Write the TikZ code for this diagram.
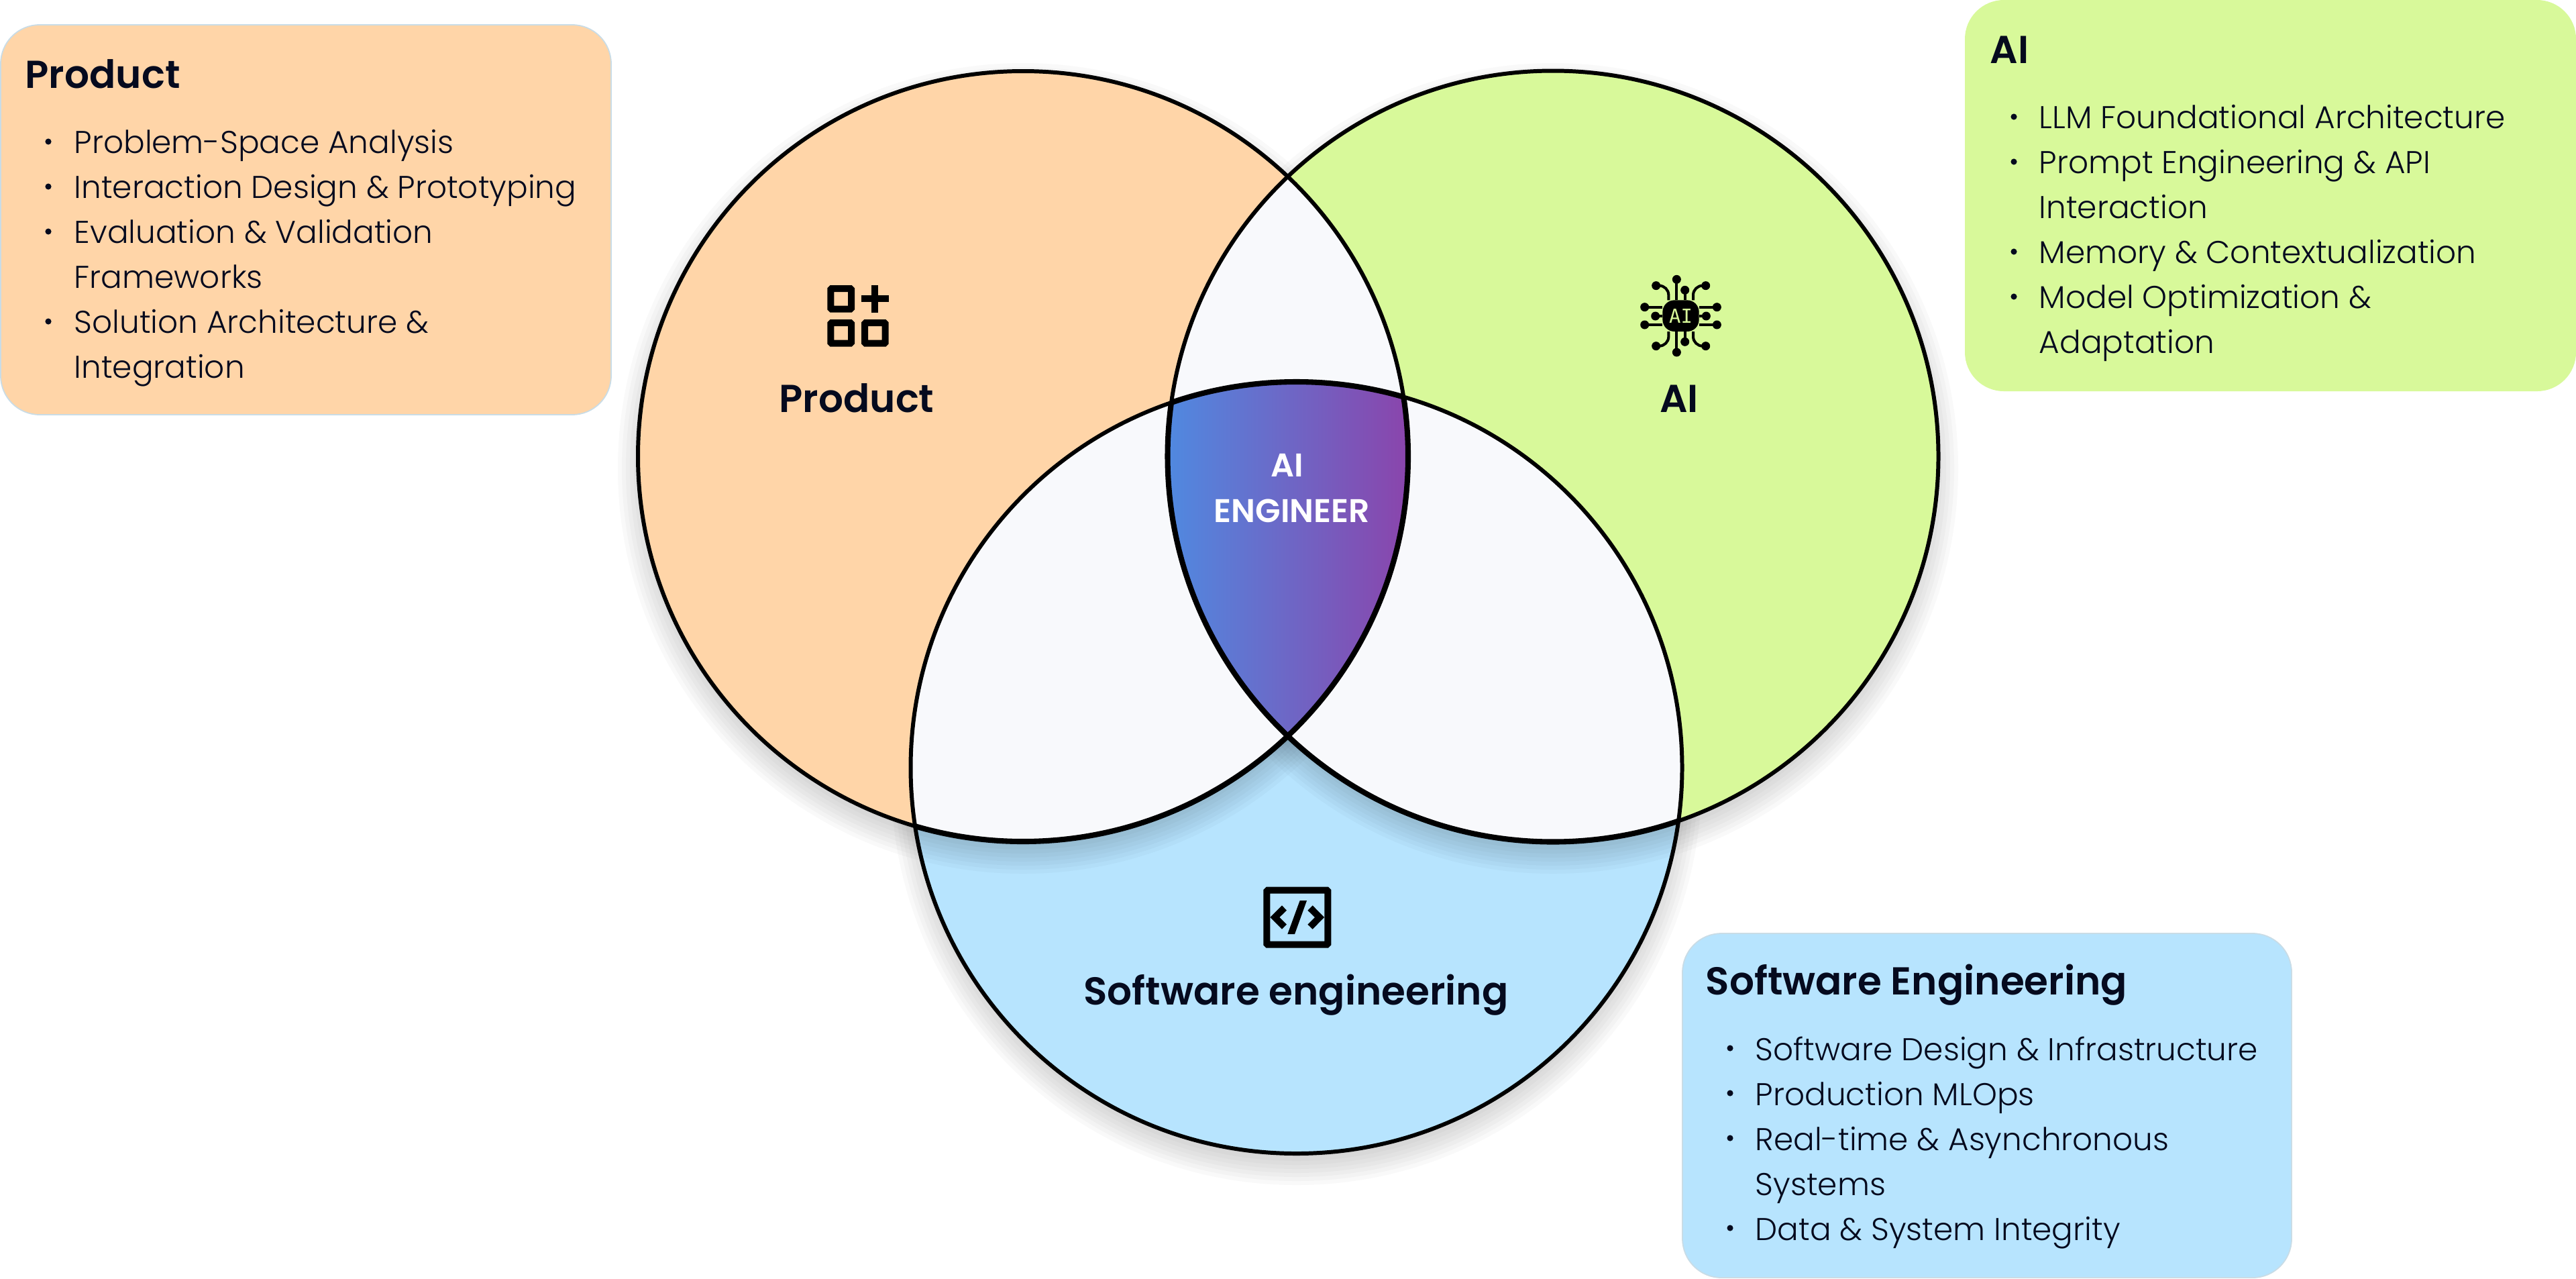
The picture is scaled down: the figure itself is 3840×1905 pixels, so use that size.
\documentclass[tikz,border=0pt]{standalone}
\usepackage{fontspec}
\setmainfont{Poppins}
\newfontfamily\itemfont{Poppins Light}
\newfontfamily\headfont{Poppins SemiBold}
\newfontfamily\chipfont{DejaVu Sans Mono}
\usetikzlibrary{positioning}
\definecolor{productfill}{HTML}{FFD5A8}
\definecolor{aifill}{HTML}{D8F99A}
\definecolor{softwarefill}{HTML}{B7E4FE}
\definecolor{overlapfill}{HTML}{F8F9FC}
\definecolor{lensleft}{HTML}{5089E0}
\definecolor{lensright}{HTML}{8A45AC}
\definecolor{inkdark}{HTML}{050A1E}
\definecolor{boxedge}{HTML}{C9DCE6}
\def\productcircle{(1525,-680) circle (574)}
\def\aicircle{(2315,-680) circle (574.5)}
\def\softwarecircle{(1932.5,-1144) circle (575)}
\tikzset{
  vennline/.style={line width=1.7pt,black},
  vennthick/.style={line width=2.3pt,black},
  softshadow/.style={black,opacity=0.024},
  infobox/.style={rounded corners=16.5pt,draw=boxedge,line width=0.5pt},
  boxtitle/.style={anchor=base west,inner sep=0pt,font=\fontsize{16.5}{19}\headfont,text=inkdark},
  boxitem/.style={anchor=base west,inner sep=0pt,font=\fontsize{13.35}{19}\itemfont,text=inkdark},
  boxbullet/.style={circle,fill=inkdark,inner sep=0pt,minimum size=2.6pt},
  venntitle/.style={anchor=base,inner sep=0pt,font=\fontsize{16.5}{20}\headfont,text=inkdark},
  lenstitle/.style={anchor=base,inner sep=0pt,font=\fontsize{13.9}{16}\headfont,text=white},
  iconzoom/.style={xscale=1/3,yscale=-1/3},
}
\begin{document}
\begin{tikzpicture}[x=0.01cm,y=0.01cm]
\useasboundingbox (0,0) rectangle (3840,-1905);
% info boxes
\draw[infobox,fill=productfill] (1,-37) rectangle (911,-618);
\fill[rounded corners=16.5pt,aifill] (2929,0) rectangle (3840,-583);
\draw[infobox,fill=softwarefill] (2508,-1391) rectangle (3416,-1904);
% soft shadows under the circles
\foreach \d in {-24,-18,...,30} {
  \fill[softshadow] (1525,-698) circle (574+\d);
  \fill[softshadow] (2315,-698) circle (574+\d);
  \fill[softshadow] (1932.5,-1162) circle (574+\d);
}
% circles
\fill[productfill] \productcircle;
\fill[aifill] \aicircle;
\fill[softwarefill] \softwarecircle;
\begin{scope}
  \clip \softwarecircle;
  \foreach \d in {-24,-18,...,30} {
    \fill[softshadow] (1525,-698) circle (574+\d);
    \fill[softshadow] (2315,-698) circle (574+\d);
  }
\end{scope}
% overlaps
\begin{scope}
  \clip \productcircle;
  \fill[overlapfill] \aicircle;
  \fill[overlapfill] \softwarecircle;
\end{scope}
\begin{scope}
  \clip \aicircle;
  \fill[overlapfill] \softwarecircle;
\end{scope}
\begin{scope}
  \clip \productcircle;
  \clip \aicircle;
  \clip \softwarecircle;
  \shade[left color=lensleft,right color=lensright] (1741,-560) rectangle (2097,-1100);
\end{scope}
\draw[vennline] \productcircle;
\draw[vennline] \aicircle;
\draw[vennline] \softwarecircle;
\begin{scope}
  \clip \softwarecircle;
  \draw[vennthick] \productcircle;
  \draw[vennthick] \aicircle;
\end{scope}
\begin{scope}
  \clip \productcircle;
  \clip \aicircle;
  \draw[vennthick] \softwarecircle;
\end{scope}
% product icon
\begin{scope}[shift={(1200,-400)},iconzoom]
  \draw[line width=2.85pt,rounded corners=0.4pt] (115,90) rectangle (207,182);
  \draw[line width=2.85pt,rounded corners=0.4pt] (115,243) rectangle (207,335);
  \draw[line width=2.85pt,rounded corners=0.4pt] (267,243) rectangle (359,335);
  \fill (252,121) rectangle (374,151);
  \fill (298,75) rectangle (328,197);
\end{scope}
% ai chip icon
\begin{scope}[shift={(2400,-390)},iconzoom]
  \fill[rounded corners=5pt] (235,172) rectangle (398,312);
  \draw[line width=1.15pt] (298,79) -- (298,172) (335,127) -- (335,172);
  \draw[line width=1.15pt] (298,405) -- (298,312) (335,358) -- (335,312);
  \draw[line width=1.15pt,rounded corners=4pt] (206,107) -- (262,107) -- (262,172);
  \draw[line width=1.15pt,rounded corners=4pt] (428,107) -- (372,107) -- (372,172);
  \draw[line width=1.15pt,rounded corners=4pt] (206,377) -- (262,377) -- (262,312);
  \draw[line width=1.15pt,rounded corners=4pt] (428,377) -- (372,377) -- (372,312);
  \draw[line width=1.15pt] (155,203) -- (235,203) (203,243) -- (235,243) (155,282) -- (235,282);
  \draw[line width=1.15pt] (478,203) -- (398,203) (430,243) -- (398,243) (478,282) -- (398,282);
  \foreach \px/\py in {298/79,335/127,206/107,428/107,298/405,335/358,206/377,428/377,155/203,203/243,155/282,478/203,430/243,478/282}
    \fill (\px,\py) circle (19.5);
\end{scope}
\node[inner sep=0pt,font=\fontsize{8.2}{9}\chipfont,text=aifill] (chiplabel) at (2505.5,-470.5) {AI};
% software icon
\begin{scope}[shift={(1850,-1300)},iconzoom]
  \draw[line width=2.85pt,rounded corners=0.4pt] (115,80) rectangle (388,323);
  \fill (183,148) -- (130,201) -- (183,254) -- (204,233) -- (172,201) -- (204,170) -- cycle;
  \fill (320,148) -- (372,201) -- (320,254) -- (298,233) -- (330,201) -- (298,170) -- cycle;
  \fill (263,126) -- (294,126) -- (240,276) -- (208,276) -- cycle;
\end{scope}
% venn labels
\node[venntitle] (productlabel) at (1277,-614) {Product};
\node[venntitle] (ailabel) at (2503,-614) {AI};
\node[venntitle] (softwarelabel) at (1932,-1497) {Software engineering};
\node[lenstitle] (aitop) at (1919,-710) {AI};
\node[lenstitle] (engineer) at (1926,-778) {ENGINEER};
% box texts
\node[boxtitle] (producthead) at (37,-131) {Product};
\node[boxtitle] (aihead) at (2966,-94) {AI};
\node[boxtitle] (softwarehead) at (2542,-1482) {Software Engineering};
\foreach \n/\ypos/\txt in {1/-228/Problem-Space Analysis,2/-295/Interaction Design \& Prototyping,3/-362/Evaluation \& Validation,4/-429/Frameworks,5/-496/Solution Architecture \&,6/-563/Integration}
  \node[boxitem] (productitem\n) at (110,\ypos) {\txt};
\foreach \n/\ypos/\txt in {1/-191/LLM Foundational Architecture,2/-258/Prompt Engineering \& API,3/-325/Interaction,4/-392/Memory \& Contextualization,5/-459/Model Optimization \&,6/-526/Adaptation}
  \node[boxitem] (aiitem\n) at (3039,\ypos) {\txt};
\foreach \n/\ypos/\txt in {1/-1580/Software Design \& Infrastructure,2/-1647/Production MLOps,3/-1714/Real-time \& Asynchronous,4/-1781/Systems,5/-1848/Data \& System Integrity}
  \node[boxitem] (softwareitem\n) at (2616,\ypos) {\txt};
\foreach \ypos in {-211,-278,-345,-479}
  \node[boxbullet] at (72,\ypos) {};
\foreach \ypos in {-174,-241,-375,-442}
  \node[boxbullet] at (3002,\ypos) {};
\foreach \ypos in {-1562,-1629,-1696,-1830}
  \node[boxbullet] at (2579,\ypos) {};
\end{tikzpicture}
\end{document}
